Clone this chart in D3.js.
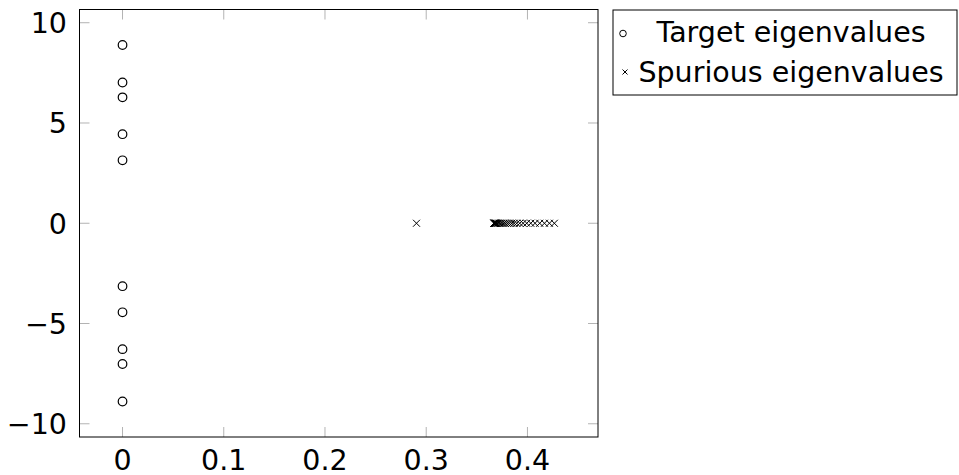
<!DOCTYPE html>
<html>
<meta charset="utf-8">
<title>Eigenvalues</title>
<style>
body { margin: 0; background: #fff; }
text { font-family: "DejaVu Sans", sans-serif; font-size: 28.5px; fill: #000; }
</style>
<body>
<div id="chart"></div>
<script src="https://cdn.jsdelivr.net/npm/d3@7"></script>
<script>
// target eigenvalues (real part, imaginary part)
var targetRe = [0, 0, 0, 0, 0, 0, 0, 0, 0, 0];
var targetIm = [3.14, 4.44, 6.28, 7.02, 8.89, -3.14, -4.44, -6.28, -7.02, -8.89];

// spurious eigenvalues, all on the real axis
var spuriousRe = [0.2904, 0.3668, 0.3670, 0.3672, 0.3675, 0.3678, 0.3682, 0.3686,
  0.3690, 0.3694, 0.3707, 0.3720, 0.3733, 0.3749, 0.3766, 0.3782, 0.3802, 0.3822,
  0.3845, 0.3868, 0.3894, 0.3924, 0.3957, 0.3993, 0.4033, 0.4075, 0.4121, 0.4168,
  0.4217, 0.4266];
var spuriousIm = spuriousRe.map(function(){ return 0; });

var xTicks = [0, 0.1, 0.2, 0.3, 0.4];
var yTicks = [-10, -5, 0, 5, 10];
var legendLabels = ["Target eigenvalues", "Spurious eigenvalues"];

var W = 959, H = 475;
var pl = 79.5, pr = 598, pt = 9.5, pb = 437;

var svg = d3.select("#chart").append("svg")
  .attr("width", W).attr("height", H);

var x = d3.scaleLinear().domain([-0.0425, 0.4697]).range([pl, pr]);
var y = d3.scaleLinear().domain([-10.66, 10.66]).range([pb, pt]);

// ticks, inside on all four sides
var tickLen = 10, tickCol = "#b3b3b3";
var tk = svg.append("g").attr("stroke", tickCol).attr("stroke-width", 1);
xTicks.forEach(function(t){
  tk.append("line").attr("x1", x(t)).attr("x2", x(t)).attr("y1", pb).attr("y2", pb - tickLen);
  tk.append("line").attr("x1", x(t)).attr("x2", x(t)).attr("y1", pt).attr("y2", pt + tickLen);
});
yTicks.forEach(function(t){
  tk.append("line").attr("x1", pl).attr("x2", pl + tickLen).attr("y1", y(t)).attr("y2", y(t));
  tk.append("line").attr("x1", pr).attr("x2", pr - tickLen).attr("y1", y(t)).attr("y2", y(t));
});

// frame
svg.append("rect")
  .attr("x", pl).attr("y", pt)
  .attr("width", pr - pl).attr("height", pb - pt)
  .attr("fill", "none").attr("stroke", "#000").attr("stroke-width", 1);

// tick labels
var fmt = function(v){ return v < 0 ? "\u2212" + Math.abs(v) : String(v); };
svg.selectAll(".xl").data(xTicks).enter().append("text")
  .attr("x", function(d){ return x(d); })
  .attr("y", 470)
  .attr("text-anchor", "middle")
  .text(fmt);
svg.selectAll(".yl").data(yTicks).enter().append("text")
  .attr("x", 67)
  .attr("y", function(d){ return y(d); })
  .attr("dy", "0.36em")
  .attr("text-anchor", "end")
  .text(fmt);

// marks
function cross(g, cx, cy, h){
  g.append("path")
    .attr("d", "M" + (cx - h) + "," + (cy - h) + "L" + (cx + h) + "," + (cy + h) +
               "M" + (cx - h) + "," + (cy + h) + "L" + (cx + h) + "," + (cy - h))
    .attr("stroke", "#000").attr("stroke-width", 1).attr("fill", "none");
}

svg.append("g").selectAll("circle")
  .data(d3.range(targetRe.length)).enter().append("circle")
  .attr("cx", function(i){ return x(targetRe[i]); })
  .attr("cy", function(i){ return y(targetIm[i]); })
  .attr("r", 4.3)
  .attr("fill", "none").attr("stroke", "#000").attr("stroke-width", 1.2);

var sp = svg.append("g");
spuriousRe.forEach(function(v, i){ cross(sp, x(v), y(spuriousIm[i]), 3.5); });

// legend
var lg = svg.append("g");
lg.append("rect")
  .attr("x", 613).attr("y", 10).attr("width", 344).attr("height", 85)
  .attr("fill", "#fff").attr("stroke", "#000").attr("stroke-width", 1);
lg.append("circle").attr("cx", 623).attr("cy", 33.5).attr("r", 3.3)
  .attr("fill", "none").attr("stroke", "#000").attr("stroke-width", 1);
cross(lg, 625, 72, 2.5);
legendLabels.forEach(function(s, i){
  lg.append("text")
    .attr("x", 791).attr("y", 42 + i * 40)
    .attr("text-anchor", "middle")
    .text(s);
});
</script>
</body>
</html>
